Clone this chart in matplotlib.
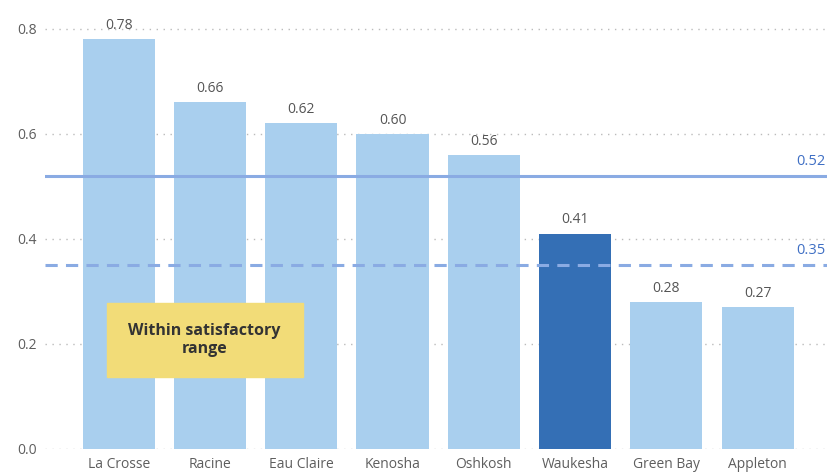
import matplotlib.pyplot as plt
from matplotlib.patches import Rectangle

cities = ['La Crosse', 'Racine', 'Eau Claire', 'Kenosha', 'Oshkosh', 'Waukesha', 'Green Bay', 'Appleton']
values = [0.78, 0.66, 0.62, 0.60, 0.56, 0.41, 0.28, 0.27]
highlight = 'Waukesha'
upper_ref = 0.52
lower_ref = 0.35

plt.rcParams['font.family'] = ['Open Sans', 'DejaVu Sans']

fig = plt.figure(figsize=(8.28, 4.76), dpi=100)
ax = fig.add_axes([0.054, 0.057, 0.946, 0.943])

x = range(len(cities))
colors = ['#346fb5' if c == highlight else '#a9cfee' for c in cities]
ax.bar(x, values, width=0.79, color=colors, zorder=2)

for i, v in enumerate(values):
    ax.text(i, v + 0.012, f'{v:.2f}', ha='center', va='bottom', fontsize=10, color='#555555')

# reference lines
ax.axhline(upper_ref, color='#8aabe3', lw=2.2, zorder=3)
ax.axhline(lower_ref, color='#8aabe3', lw=2.2, ls=(0, (4, 2.7)), zorder=3)
ax.text(7.74, upper_ref + 0.014, f'{upper_ref:.2f}', ha='right', va='bottom', fontsize=10.5, color='#3f6fc4')
ax.text(7.74, lower_ref + 0.014, f'{lower_ref:.2f}', ha='right', va='bottom', fontsize=10.5, color='#3f6fc4')

# annotation box
ax.add_patch(Rectangle((-0.13, 0.137), 2.15, 0.141, color='#f2dc78', zorder=4))
ax.text(0.94, 0.207, 'Within satisfactory\nrange', ha='center', va='center',
        fontsize=11.5, fontweight='bold', color='#333333', zorder=5, linespacing=1.2)

ax.set_xlim(-0.81, 7.77)
ax.set_ylim(0, 0.855)
ax.set_yticks([0.0, 0.2, 0.4, 0.6, 0.8])
ax.set_yticklabels(['0.0', '0.2', '0.4', '0.6', '0.8'])
ax.set_xticks(list(x))
ax.set_xticklabels(cities)
ax.tick_params(length=0, labelsize=10, colors='#5e5e5e', pad=6)
ax.yaxis.grid(True, ls=(0, (1, 4)), color='#bbbbbb', lw=1, zorder=0)
for s in ax.spines.values():
    s.set_visible(False)

fig.savefig('out.png', dpi=100)
